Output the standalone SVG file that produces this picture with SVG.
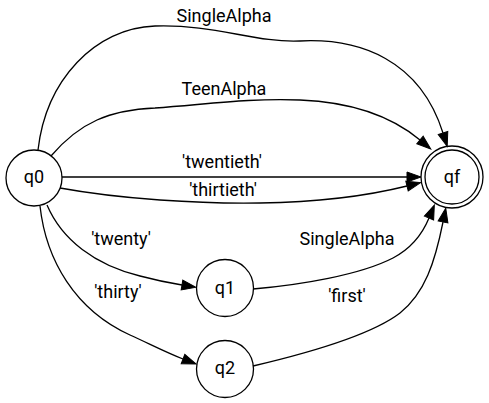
<svg xmlns="http://www.w3.org/2000/svg" width="489" height="403" viewBox="0 0 489 403">
<style>
  .node circle { fill: none; stroke: #000; stroke-width: 1.3; }
  .edge { fill: none; stroke: #000; stroke-width: 1.3; marker-end: url(#arrow); }
  text { font-family: Roboto, "DejaVu Sans", sans-serif; font-size: 18px; fill: #000; text-anchor: middle; }
</style>
<defs>
  <marker id="arrow" markerUnits="userSpaceOnUse" markerWidth="15" markerHeight="11" refX="0" refY="5" orient="auto" overflow="visible">
    <path d="M0,0 L14,5 L0,10 z" fill="#000" stroke="#000" stroke-width="1"/>
  </marker>
</defs>
<rect width="489" height="403" fill="#fff"/>
<g id="connectors">
  <path class="edge" d="M38,150 C46,80 95,28 155,26 C215,24 255,43 300,41 C360,38 420,60 443,133"/>
  <path class="edge" d="M51,156 C80,122 110,110 155,108 C210,104 250,98 300,100 C350,102 390,115 420,140"/>
  <path class="edge" d="M62,177 L407,177"/>
  <path class="edge" d="M60,188 C120,199 200,204 260,203 C330,202 375,194 407,186"/>
  <path class="edge" d="M47,205 C62,240 95,265 140,276 C155,280 170,283 182,285"/>
  <path class="edge" d="M40,206 C46,260 75,310 130,335 C150,344 165,352 183,359"/>
  <path class="edge" d="M253,289 C300,285 360,275 393,258 C410,249 422,235 429,218"/>
  <path class="edge" d="M253,366 C300,355 370,336 400,313 C425,293 435,262 443,222"/>
  <text x="224" y="22">SingleAlpha</text>
  <text x="224" y="95">TeenAlpha</text>
  <text x="222" y="168">'twentieth'</text>
  <text x="223" y="196">'thirtieth'</text>
  <text x="121" y="245">'twenty'</text>
  <text x="118" y="298">'thirty'</text>
  <text x="347" y="245">SingleAlpha</text>
  <text x="347" y="302">'first'</text>
</g>
<g id="q0" class="node">
  <circle cx="34" cy="178" r="28"/>
  <text x="34" y="183">q0</text>
</g>
<g id="qf" class="node">
  <circle cx="452" cy="177" r="31"/>
  <circle cx="452" cy="177" r="27"/>
  <text x="452" y="183">qf</text>
</g>
<g id="q1" class="node">
  <circle cx="225" cy="288" r="28.5"/>
  <text x="225" y="294">q1</text>
</g>
<g id="q2" class="node">
  <circle cx="225" cy="369" r="28.5"/>
  <text x="225" y="374">q2</text>
</g>
</svg>
